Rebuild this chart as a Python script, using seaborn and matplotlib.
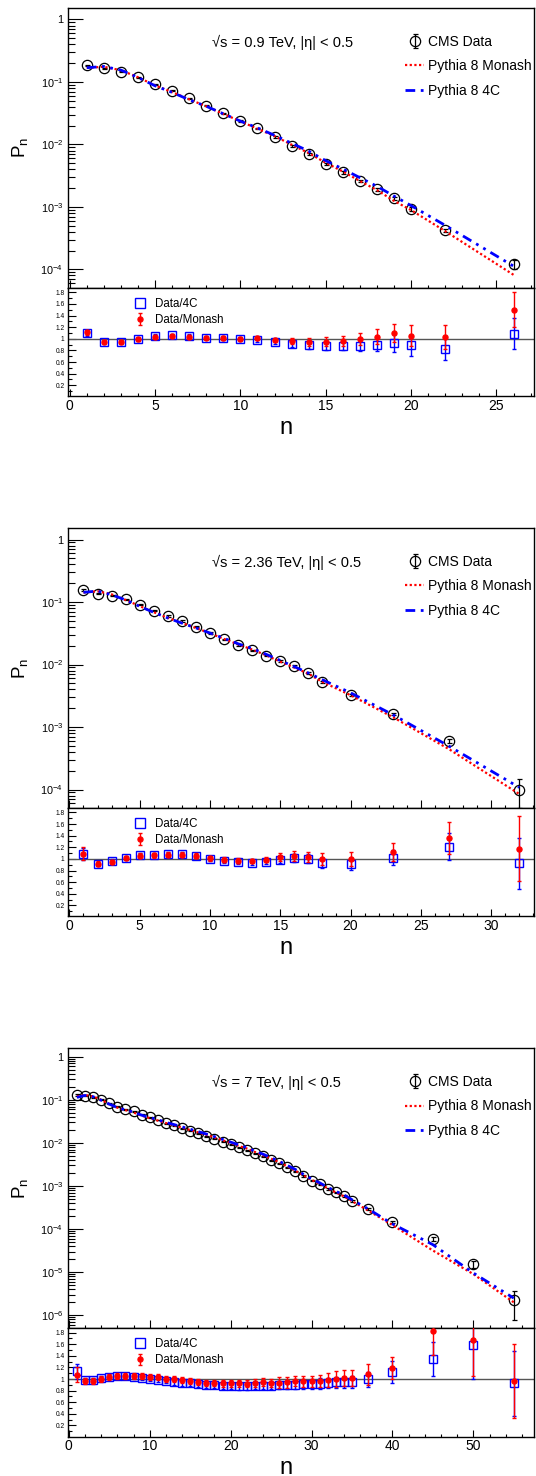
"""Charged-particle multiplicity P_n in |eta| < 0.5: CMS data vs Pythia 8 Monash and 4C."""

import matplotlib

matplotlib.use("Agg")
import matplotlib.pyplot as plt
import matplotlib.ticker as mticker
import numpy as np
import pandas as pd
import seaborn as sns
from matplotlib.lines import Line2D


# ---- sqrt(s) = 0.9 TeV ----
N_09 = [1, 2, 3, 4, 5, 6, 7, 8, 9, 10, 11, 12, 13, 14, 15, 16, 17, 18, 19, 20, 22, 26]
PN_09 = [0.186, 0.166, 0.146, 0.118, 0.0912, 0.0722, 0.0545, 0.0416, 0.0313, 0.0236, 0.0180,
         0.0133, 0.00952, 0.00692, 0.00484, 0.00356, 0.00259, 0.00193, 0.00138, 0.000935,
         0.000421, 0.000123]
PN_ERR_09 = [0.004, 0.003, 0.003, 0.002, 0.002, 0.0015, 0.0012, 0.001, 0.0008, 0.0006, 0.0005,
             0.0004, 0.0003, 0.00025, 0.0002, 0.00015, 0.00012, 0.0001, 0.00008, 0.00006,
             0.00003, 0.00002]
MONASH_09 = [0.168, 0.175, 0.154, 0.119, 0.0881, 0.0688, 0.0527, 0.0408, 0.0308, 0.0235, 0.0178,
             0.0136, 0.00992, 0.00728, 0.00509, 0.00369, 0.00260, 0.00186, 0.00125, 0.000890,
             0.000409, 0.0000820]
TUNE4C_09 = [0.169, 0.177, 0.155, 0.118, 0.0869, 0.0681, 0.0519, 0.0408, 0.0310, 0.0236, 0.0184,
             0.0140, 0.01046, 0.00782, 0.00550, 0.00405, 0.00294, 0.00214, 0.00149, 0.00105,
             0.000507, 0.000113]
R4C_09 = [1.10, 0.94, 0.94, 1.00, 1.05, 1.06, 1.05, 1.02, 1.01, 1.00, 0.98, 0.95, 0.91, 0.885,
          0.88, 0.88, 0.88, 0.90, 0.925, 0.89, 0.83, 1.09]
R4C_ERR_09 = [0.05, 0.03, 0.03, 0.03, 0.03, 0.03, 0.03, 0.03, 0.03, 0.03, 0.03, 0.04, 0.05, 0.06,
              0.07, 0.08, 0.09, 0.11, 0.15, 0.18, 0.19, 0.27]
RMON_09 = [1.11, 0.95, 0.95, 0.99, 1.035, 1.05, 1.035, 1.02, 1.015, 1.005, 1.01, 0.98, 0.96, 0.95,
           0.95, 0.965, 0.995, 1.035, 1.10, 1.05, 1.03, 1.50]
RMON_ERR_09 = [0.05, 0.03, 0.03, 0.03, 0.03, 0.03, 0.03, 0.03, 0.03, 0.03, 0.03, 0.04, 0.05, 0.07,
               0.08, 0.09, 0.11, 0.13, 0.15, 0.18, 0.20, 0.30]

# ---- sqrt(s) = 2.36 TeV ----
N_236 = [1, 2, 3, 4, 5, 6, 7, 8, 9, 10, 11, 12, 13, 14, 15, 16, 17, 18, 20, 23, 27, 32]
PN_236 = [0.155, 0.137, 0.126, 0.110, 0.0912, 0.0731, 0.0601, 0.0500, 0.0406, 0.0321, 0.0254,
          0.0204, 0.0168, 0.0139, 0.0115, 0.0094, 0.00736, 0.00528, 0.00323, 0.00162, 0.000601,
          0.000100]
PN_ERR_236 = [0.005, 0.004, 0.003, 0.003, 0.0025, 0.002, 0.0017, 0.0014, 0.0011, 0.0009, 0.0007,
              0.0006, 0.0005, 0.0004, 0.0004, 0.0003, 0.00025, 0.0002, 0.00013, 0.00008, 0.00004,
              0.00005]
MONASH_236 = [0.142, 0.149, 0.133, 0.108, 0.0862, 0.0688, 0.0559, 0.0465, 0.0384, 0.0317, 0.0257,
              0.0210, 0.0174, 0.01405, 0.01111, 0.00894, 0.00711, 0.00528, 0.00323, 0.001445,
              0.000443, 0.0000848]
TUNE4C_236 = [0.143, 0.150, 0.131, 0.108, 0.0853, 0.0684, 0.0556, 0.0460, 0.0386, 0.0319, 0.0263,
              0.0215, 0.0180, 0.01457, 0.01163, 0.00924, 0.00732, 0.00571, 0.00353, 0.00158,
              0.000495, 0.000108]
R4C_236 = [1.086, 0.914, 0.96, 1.017, 1.069, 1.069, 1.08, 1.086, 1.052, 1.006, 0.965, 0.948,
           0.931, 0.954, 0.989, 1.017, 1.006, 0.925, 0.914, 1.023, 1.213, 0.925]
R4C_ERR_236 = [0.10, 0.04, 0.04, 0.04, 0.04, 0.04, 0.04, 0.04, 0.04, 0.04, 0.04, 0.04, 0.04, 0.05,
               0.06, 0.07, 0.07, 0.09, 0.11, 0.13, 0.23, 0.44]
RMON_236 = [1.092, 0.919, 0.948, 1.017, 1.058, 1.063, 1.075, 1.075, 1.058, 1.012, 0.989, 0.971,
            0.965, 0.989, 1.035, 1.052, 1.035, 1.0, 1.0, 1.121, 1.357, 1.179]
RMON_ERR_236 = [0.11, 0.04, 0.04, 0.04, 0.04, 0.04, 0.04, 0.04, 0.04, 0.04, 0.04, 0.04, 0.04,
                0.05, 0.07, 0.08, 0.08, 0.11, 0.12, 0.15, 0.27, 0.56]

# ---- sqrt(s) = 7 TeV ----
N_7 = [1, 2, 3, 4, 5, 6, 7, 8, 9, 10, 11, 12, 13, 14, 15, 16, 17, 18, 19, 20, 21, 22, 23, 24,
       25, 26, 27, 28, 29, 30, 31, 32, 33, 34, 35, 37, 40, 45, 50, 55]
PN_7 = [0.129, 0.124, 0.116, 0.100, 0.0827, 0.0692, 0.0611, 0.0539, 0.0451, 0.0391,
        0.0340, 0.0289, 0.0255, 0.0221, 0.0192, 0.0166, 0.0144, 0.0125, 0.0107, 0.00925,
        0.00787, 0.00683, 0.00571, 0.00487, 0.00400, 0.00335, 0.00270, 0.00219, 0.00170, 0.00133,
        0.00109, 0.000865, 0.000711, 0.000585, 0.000456,
        0.000292, 0.000149, 5.89e-5, 1.52e-5, 2.26e-6]
PN_ERR_7 = [0.004, 0.003, 0.003, 0.0025, 0.002, 0.0017, 0.0015, 0.0013, 0.0011, 0.0009,
            0.0008, 0.0007, 0.0006, 0.0005, 0.00045, 0.0004, 0.00035, 0.0003, 0.00026, 0.00023,
            0.0002, 0.00017, 0.00015, 0.00013, 0.00011, 0.0001, 0.00008, 0.00007, 0.00006, 0.00005,
            0.00004, 0.000035, 0.00003, 0.000025, 0.00002,
            0.000015, 0.000009, 0.000006, 0.000003, 0.0000015]
MONASH_7 = [0.1206, 0.1292, 0.1202, 0.1000, 0.0799, 0.0658, 0.0578, 0.0509, 0.0429, 0.0376,
            0.0330, 0.0289, 0.0257, 0.0226, 0.0199, 0.0175, 0.0154, 0.0134, 0.01157, 0.0100,
            0.00851, 0.00743, 0.00617, 0.00517, 0.00432, 0.00358, 0.00287, 0.00227, 0.00177,
            0.00139, 0.00113, 0.000885, 0.000711, 0.000575, 0.000446,
            0.000270, 0.000124, 3.19e-5, 9.05e-6, 2.0e-6]
TUNE4C_7 = [0.1142, 0.1265, 0.1184, 0.0980, 0.0795, 0.0662, 0.0584, 0.0518, 0.0441, 0.0389,
            0.0346, 0.0299, 0.0267, 0.0236, 0.0208, 0.0183, 0.0161, 0.0140, 0.0121, 0.01045,
            0.00901, 0.00777, 0.00645, 0.00550, 0.00452, 0.00376, 0.00301, 0.00243, 0.00187,
            0.00146, 0.00119, 0.000929, 0.000755, 0.000621, 0.000481,
            0.000294, 0.000132, 4.36e-5, 9.58e-6, 2.5e-6]
R4C_7 = [1.13, 0.98, 0.98, 1.02, 1.04, 1.046, 1.046, 1.04, 1.023, 1.006,
         0.983, 0.965, 0.954, 0.937, 0.925, 0.908, 0.896, 0.89, 0.885, 0.885,
         0.873, 0.879, 0.885, 0.885, 0.885, 0.89, 0.896, 0.902, 0.908, 0.908,
         0.919, 0.931, 0.942, 0.942, 0.948, 0.994, 1.127, 1.345, 1.587, 0.925]
R4C_ERR_7 = [0.13, 0.04, 0.04, 0.04, 0.04, 0.04, 0.04, 0.04, 0.04, 0.04,
             0.04, 0.04, 0.05, 0.05, 0.05, 0.05, 0.05, 0.05, 0.05, 0.05,
             0.06, 0.06, 0.06, 0.06, 0.06, 0.07, 0.07, 0.08, 0.08, 0.08,
             0.09, 0.09, 0.10, 0.10, 0.10, 0.13, 0.19, 0.29, 0.59, 0.56]
RMON_7 = [1.07, 0.96, 0.965, 1.0, 1.035, 1.052, 1.058, 1.058, 1.052, 1.04,
          1.029, 1.0, 0.994, 0.977, 0.965, 0.948, 0.937, 0.931, 0.925, 0.925,
          0.925, 0.919, 0.925, 0.942, 0.925, 0.937, 0.942, 0.965, 0.96, 0.96,
          0.965, 0.977, 1.0, 1.017, 1.023, 1.08, 1.195, 1.834, 1.67, 0.965]
RMON_ERR_7 = [0.13, 0.05, 0.05, 0.05, 0.05, 0.05, 0.05, 0.05, 0.05, 0.05,
              0.05, 0.05, 0.05, 0.05, 0.05, 0.05, 0.05, 0.06, 0.06, 0.06,
              0.06, 0.06, 0.07, 0.07, 0.07, 0.09, 0.09, 0.09, 0.09, 0.10,
              0.11, 0.12, 0.13, 0.14, 0.14, 0.18, 0.19, 0.42, 0.61, 0.63]

LABELS = ["√s = 0.9 TeV, |η| < 0.5", "√s = 2.36 TeV, |η| < 0.5", "√s = 7 TeV, |η| < 0.5"]
RATIO_TICKS = [0.2, 0.4, 0.6, 0.8, 1.0, 1.2, 1.4, 1.6, 1.8]
RATIO_TICK_LABELS = ["0.2", "0.4", "0.6", "0.8", "1", "1.2", "1.4", "1.6", "1.8"]

# page geometry in pixels (figure is 536 x 1476 at dpi 100)
W, H = 536, 1476
LEFT, RIGHT = 68, 534
MAIN_H, RATIO_H = 279.6, 108.6
PANEL_TOPS = [8.1, 528.2, 1048.3]


def px_rect(top, height):
    return [LEFT / W, 1 - (top + height) / H, (RIGHT - LEFT) / W, height / H]


def log_label(value, _pos):
    exp = int(round(np.log10(value)))
    return "1" if exp == 0 else rf"$10^{{{exp}}}$"


def style_frame(ax):
    for spine in ax.spines.values():
        spine.set_visible(True)
        spine.set_linewidth(1.0)
        spine.set_color("black")


def draw_panel(fig, top, label, n, pn, pn_err, monash, tune4c, r4c, r4c_err, rmon, rmon_err,
               xmax, ylim, x_major, x_minor):
    """Main log-scale distribution with the data/model ratio pad underneath."""
    ax = fig.add_axes(px_rect(top, MAIN_H))
    ax.set_yscale("log")
    data = ax.errorbar(n, pn, yerr=pn_err, fmt="o", mfc="none", mec="black", ms=7.4, mew=0.9,
                       ecolor="black", elinewidth=0.9, capsize=1.8, zorder=2)
    curves = pd.DataFrame({"n": n, "monash": monash, "tune4c": tune4c})
    sns.lineplot(data=curves, x="n", y="monash", ax=ax, color="red", lw=1.6,
                 linestyle=(0, (1, 1.1)), zorder=3)
    sns.lineplot(data=curves, x="n", y="tune4c", ax=ax, color="blue", lw=2.0,
                 linestyle=(0, (3.5, 2, 1, 2, 1, 2)), zorder=3)
    ax.set_xlim(-0.1, xmax)
    ax.set_ylim(*ylim)
    ax.yaxis.set_major_locator(mticker.LogLocator(base=10, numticks=20))
    ax.yaxis.set_minor_locator(mticker.LogLocator(base=10, subs=np.arange(2, 10), numticks=20))
    ax.yaxis.set_major_formatter(mticker.FuncFormatter(log_label))
    ax.yaxis.set_minor_formatter(mticker.NullFormatter())
    ax.xaxis.set_major_locator(mticker.MultipleLocator(x_major))
    ax.xaxis.set_minor_locator(mticker.MultipleLocator(x_minor))
    ax.tick_params(axis="y", which="major", direction="in", length=10.8, width=0.8,
                   labelsize=7.8, pad=3.5, left=True, right=False)
    ax.tick_params(axis="y", which="minor", direction="in", length=4.8, width=0.8,
                   left=True, right=False)
    ax.tick_params(axis="x", which="major", direction="in", length=5.5, width=0.8,
                   labelbottom=False, bottom=True, top=False)
    ax.tick_params(axis="x", which="minor", direction="in", length=2.4, width=0.8,
                   bottom=True, top=False)
    ax.set_xlabel("")
    ax.set_ylabel(r"$\mathregular{P_{n}}$", fontsize=13.5)
    ax.yaxis.set_label_coords(-0.082, 0.5)
    style_frame(ax)

    ax.text(0.308, 0.877, label, transform=ax.transAxes, fontsize=10.5, ha="left", va="center")
    model_lines = ax.get_lines()[-2:]
    ax.legend([data, model_lines[0], model_lines[1]],
              ["CMS Data", "Pythia 8 Monash", "Pythia 8 4C"],
              loc="upper left", bbox_to_anchor=(0.723, 0.905), frameon=False, fontsize=10,
              handlelength=1.4, handletextpad=0.25, labelspacing=0.76, borderpad=0,
              borderaxespad=0)

    rx = fig.add_axes(px_rect(top + MAIN_H, RATIO_H))
    rx.axhline(1.0, color="#555555", lw=1.0, zorder=1)
    rx.errorbar(n, r4c, yerr=r4c_err, fmt="s", mfc="none", mec="blue", ms=6.4, mew=1.0,
                ecolor="blue", elinewidth=1.0, capsize=1.6, zorder=2)
    mon = rx.errorbar(n, rmon, yerr=rmon_err, fmt="o", color="red", ms=3.6,
                      ecolor="red", elinewidth=1.0, capsize=1.6, zorder=3)
    rx.set_xlim(-0.1, xmax)
    rx.set_ylim(0.01, 1.88)
    rx.yaxis.set_major_locator(mticker.FixedLocator(RATIO_TICKS))
    rx.yaxis.set_major_formatter(mticker.FixedFormatter(RATIO_TICK_LABELS))
    rx.yaxis.set_minor_locator(mticker.MultipleLocator(0.1))
    rx.xaxis.set_major_locator(mticker.MultipleLocator(x_major))
    rx.xaxis.set_minor_locator(mticker.MultipleLocator(x_minor))
    rx.tick_params(axis="y", which="major", direction="in", length=5.8, width=0.8,
                   labelsize=4.8, pad=2.5, left=True, right=False)
    rx.tick_params(axis="y", which="minor", direction="in", length=2.9, width=0.8,
                   left=True, right=False)
    rx.tick_params(axis="x", which="major", direction="in", length=4.8, width=0.8,
                   labelsize=10, pad=2, bottom=True, top=False)
    rx.tick_params(axis="x", which="minor", direction="in", length=2.0, width=0.8,
                   bottom=True, top=False)
    rx.set_xlabel("n", fontsize=17, x=0.468, labelpad=3)
    style_frame(rx)

    square = Line2D([], [], ls="none", marker="s", mfc="none", mec="blue", ms=7, mew=1.0)
    rx.legend([square, mon], ["Data/4C", "Data/Monash"], loc="upper left",
              bbox_to_anchor=(0.143, 0.905), frameon=False, fontsize=8.3, handlelength=1.0,
              handletextpad=0.8, labelspacing=0.36, borderpad=0, borderaxespad=0)


def main():
    sns.set_theme(style="ticks", rc={"axes.edgecolor": "black", "xtick.color": "black",
                                     "ytick.color": "black", "text.color": "black",
                                     "axes.labelcolor": "black"})
    plt.rcParams["font.family"] = ["Liberation Sans", "DejaVu Sans"]
    plt.rcParams["mathtext.fontset"] = "custom"
    plt.rcParams["mathtext.rm"] = "Liberation Sans"
    plt.rcParams["mathtext.it"] = "Liberation Sans:italic"

    fig = plt.figure(figsize=(W / 100, H / 100), dpi=100)
    draw_panel(fig, PANEL_TOPS[0], LABELS[0], N_09, PN_09, PN_ERR_09, MONASH_09, TUNE4C_09,
               R4C_09, R4C_ERR_09, RMON_09, RMON_ERR_09, 27.2, (5.1e-5, 1.52), 5, 1)
    draw_panel(fig, PANEL_TOPS[1], LABELS[1], N_236, PN_236, PN_ERR_236, MONASH_236, TUNE4C_236,
               R4C_236, R4C_ERR_236, RMON_236, RMON_ERR_236, 33.05, (5.1e-5, 1.52), 5, 1)
    draw_panel(fig, PANEL_TOPS[2], LABELS[2], N_7, PN_7, PN_ERR_7, MONASH_7, TUNE4C_7,
               R4C_7, R4C_ERR_7, RMON_7, RMON_ERR_7, 57.5, (5.1e-7, 1.57), 10, 2)
    fig.savefig("out.png", dpi=100)
    plt.close(fig)


if __name__ == "__main__":
    main()
